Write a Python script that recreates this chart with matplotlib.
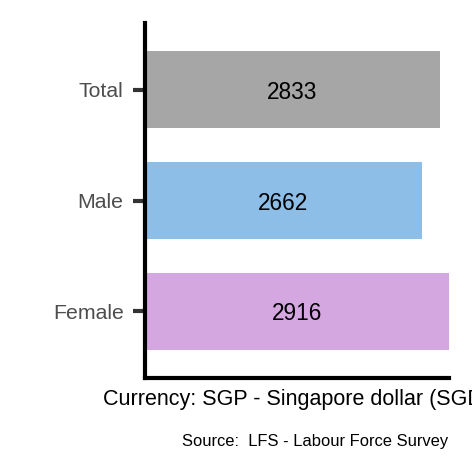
import matplotlib
matplotlib.use("Agg")
import matplotlib.pyplot as plt

categories = ["Female", "Male", "Total"]
values = [2916, 2662, 2833]
colors = ["#D4A7E1", "#8CBEE8", "#A6A6A6"]
x_title = "Currency: SGP - Singapore dollar (SGD)"
caption = "Source:  LFS - Labour Force Survey"

plt.rcParams['font.family'] = ['Liberation Sans', 'DejaVu Sans']

W = 472
fig = plt.figure(figsize=(4.72, 4.72), dpi=100)
ax = fig.add_axes([144.5 / W, (W - 378) / W, (449 - 144.5) / W, (378 - 23) / W])

pos = list(range(1, len(categories) + 1))
ax.barh(pos, values, height=0.7, color=colors, zorder=1)
for p, v in zip(pos, values):
    ax.text(v / 2, p, f"{v}", ha="center", va="center_baseline", fontsize=16.3, color="black")

ax.set_xlim(0, max(values))
ax.set_ylim(0.4, len(categories) + 0.6)
ax.set_yticks(pos)
ax.set_yticklabels(categories, fontsize=15.3, color="#4D4D4D")
ax.set_xticks([])
ax.tick_params(axis="y", length=9, width=3, color="#333333", pad=6)

for s in ["top", "right"]:
    ax.spines[s].set_visible(False)
for s in ["left", "bottom"]:
    ax.spines[s].set_linewidth(3)
    ax.spines[s].set_color("black")
    ax.spines[s].set_zorder(3)

fig.text(((144.5 + 449) / 2) / W, (W - 405) / W, x_title, ha="center", va="baseline",
         fontsize=15.5, color="black")
fig.text(448.5 / W, (W - 446) / W, caption, ha="right", va="baseline",
         fontsize=11.9, color="black")

fig.savefig("out.png", dpi=100)
